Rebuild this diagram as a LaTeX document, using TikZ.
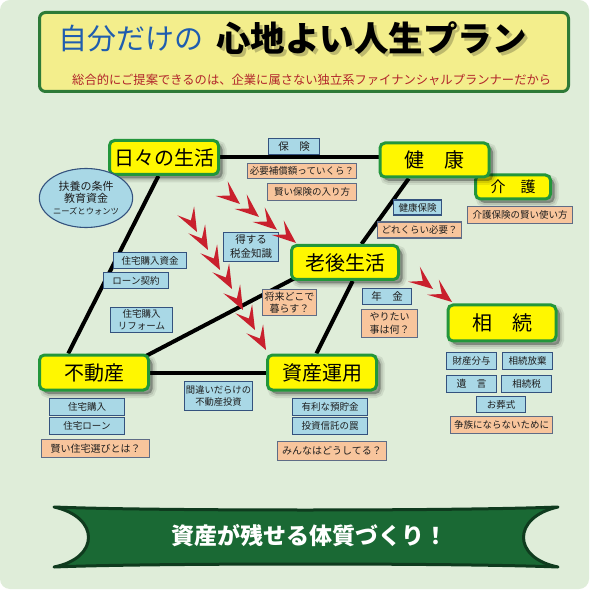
\documentclass[tikz,border=0pt]{standalone}
\usepackage{fontspec}
\setmainfont{Noto Sans CJK JP}
\usetikzlibrary{shapes.geometric,shadows,calc}
\definecolor{bgc}{HTML}{DFEDD9}
\definecolor{titlefill}{HTML}{F3EE8C}
\definecolor{titleborder}{HTML}{2D7A37}
\definecolor{nodefill}{HTML}{FFF700}
\definecolor{nodeborder}{HTML}{23963B}
\definecolor{bluefill}{HTML}{A9D8E6}
\definecolor{blueborder}{HTML}{34527E}
\definecolor{orangefill}{HTML}{F8C59C}
\definecolor{orangeborder}{HTML}{5E6C86}
\definecolor{arrowred}{HTML}{C9202D}
\definecolor{titleblue}{HTML}{1F5DAF}
\definecolor{subred}{HTML}{B1242A}
\definecolor{bannerfill}{HTML}{1A6934}
\definecolor{bannerborder}{HTML}{0F3B1E}
\definecolor{boxtext}{HTML}{1E1E1E}
\pgfdeclarelayer{bg}\pgfdeclarelayer{lines}\pgfsetlayers{bg,lines,main}
\begin{document}
\begin{tikzpicture}[x=1pt,y=-1pt,
 sz/.style 2 args={minimum width=#1pt, minimum height=#2pt},
 big/.style={draw=nodeborder, fill=nodefill, line width=3pt, rounded corners=5pt, inner sep=0pt,
   font=\fontsize{20}{24}\selectfont,
   general shadow={shadow xshift=4pt, shadow yshift=-4pt, opacity=0.08, fill=black, draw=black, line width=8pt},
   general shadow={shadow xshift=4pt, shadow yshift=-4pt, opacity=0.10, fill=black, draw=black, line width=4pt},
   general shadow={shadow xshift=4pt, shadow yshift=-4pt, opacity=0.14, fill=black, draw=none}},
 bbox/.style={draw=blueborder, fill=bluefill, line width=1.1pt, inner sep=0pt, font=\fontsize{9.5}{12}\selectfont, text=boxtext, align=center},
 obox/.style={bbox, draw=orangeborder, fill=orangefill},
 conn/.style={line width=4pt, black},
 redhead/.style={fill=arrowred}
]
\useasboundingbox (0,0) rectangle (594,593);
\begin{pgfonlayer}{bg}
\fill[white] (0,0) rectangle (594,593);
\fill[bgc, rounded corners=10pt] (0,0) rectangle (589,589);
\end{pgfonlayer}

% title
\node[draw=titleborder, fill=titlefill, line width=3pt, rounded corners=6pt, sz={529}{79}] (titlebox) at (304,52) {};
\node[font=\fontsize{29}{34}\selectfont, text=titleblue, anchor=west, inner sep=0pt] (t1) at (58,39) {自分だけの};
\node[font=\bfseries\fontsize{34.5}{40}\selectfont, text=black, text opacity=0.22, anchor=west, inner sep=0pt] (tshadow) at (219,41) {心地よい人生プラン};
\node[font=\bfseries\fontsize{34.5}{40}\selectfont, text=black, anchor=west, inner sep=0pt] (t2) at (216,38) {心地よい人生プラン};
\node[font=\fontsize{12.3}{15}\selectfont, text=subred, anchor=west, inner sep=0pt] (sub) at (72,80) {総合的にご提案できるのは、企業に属さない独立系ファイナンシャルプランナーだから};

% main nodes
\node[big, sz={109}{34}] (hibi) at (164,157.5) {日々の生活};
\node[big, sz={75}{24}, font=\fontsize{15}{18}\selectfont] (kaigo) at (513,187) {介　護};
\node[big, sz={109}{34}] (kenko) at (434.5,160) {健　康};
\node[big, sz={107}{34}] (rougo) at (345,262.5) {老後生活};
\node[big, sz={108}{36}] (souzoku) at (502,323) {相　続};
\node[big, sz={109}{35}] (fudo) at (94,372.5) {不動産};
\node[big, sz={109}{35}] (shisan) at (322,372.5) {資産運用};

% ellipse
\node[ellipse, draw=blueborder, fill=bluefill, line width=1.1pt, sz={85}{59}, inner sep=0pt, align=center, font=\fontsize{11}{12}\selectfont, text=boxtext] (fuyo) at (86,198) {扶養の条件\\教育資金\\{\fontsize{8.3}{12}\selectfont ニーズとウォンツ}};

% small boxes
\node[bbox, sz={51}{16}, font=\fontsize{10.5}{12}\selectfont] (hoken) at (294,146.5) {保　険};
\node[obox, sz={109}{15}] (hitsuyo) at (302,171) {必要補償額っていくら？};
\node[obox, sz={89}{17}] (kashikoi) at (312,192) {賢い保険の入り方};
\node[bbox, sz={48}{15}] (kenhoken) at (417.5,207.5) {健康保険};
\node[obox, sz={84}{16}] (dore) at (419.5,230) {どれくらい必要？};
\node[obox, sz={105}{17}] (kaigohoken) at (520,215) {介護保険の賢い使い方};
\node[bbox, sz={73}{16}] (jutakushikin) at (150,260.5) {住宅購入資金};
\node[bbox, sz={65}{16}] (loan) at (136,280.5) {ローン契約};
\node[bbox, sz={62}{25}, font=\fontsize{9.5}{12.5}\selectfont] (reform) at (141.5,320) {住宅購入\\リフォーム};
\node[bbox, sz={55}{29}, font=\fontsize{10.5}{14}\selectfont] (tokusuru) at (251,247) {得する\\税金知識};
\node[obox, sz={54}{26}, font=\fontsize{10}{12}\selectfont] (shorai) at (289.5,302.5) {将来どこで\\暮らす？};
\node[bbox, sz={49}{16}, font=\fontsize{10.5}{12}\selectfont] (nenkin) at (387,296.5) {年　金};
\node[obox, sz={56}{28}, font=\fontsize{10}{12.5}\selectfont] (yaritai) at (389.5,323.5) {やりたい\\事は何？};
\node[bbox, sz={50}{17}] (zaisan) at (471.5,361) {財産分与};
\node[bbox, sz={50}{17}] (houki) at (527.5,361) {相続放棄};
\node[bbox, sz={50}{17}, font=\fontsize{10}{12}\selectfont] (yuigon) at (471.5,384) {遺　言};
\node[bbox, sz={50}{17}] (souzokuzei) at (526.5,384) {相続税};
\node[bbox, sz={49}{16}] (sousiki) at (501,404.5) {お葬式};
\node[obox, sz={102}{17}] (arasoi) at (501.5,425) {争族にならないために};
\node[bbox, sz={75}{17}] (jutaku) at (87,407) {住宅購入};
\node[bbox, sz={75}{17}] (jutakuloan) at (87,426) {住宅ローン};
\node[obox, sz={108}{18}, font=\fontsize{10}{12}\selectfont] (erabi) at (95.5,448.5) {賢い住宅選びとは？};
\node[bbox, sz={68}{29}, font=\fontsize{9.3}{12.5}\selectfont] (machigai) at (218.5,396) {間違いだらけの\\不動産投資};
\node[bbox, sz={75}{17}] (yuri) at (330,407) {有利な預貯金};
\node[bbox, sz={75}{17}] (toushin) at (330,426) {投資信託の罠};
\node[obox, sz={109}{19}, font=\fontsize{10}{12}\selectfont] (minna) at (332,451) {みんなはどうしてる？};

% connectors
\begin{pgfonlayer}{lines}
\draw[conn] (hibi.east) -- (hibi.east -| kenko.west);
\draw[conn] (fudo.east) -- (fudo.east -| shisan.west);
\draw[conn] ($(hibi.south west)!0.45!(hibi.south east)$) -- ($(fudo.north west)!0.27!(fudo.north east)$);
\draw[conn] ($(kenko.south west)!0.27!(kenko.south east)$) -- ($(rougo.north west)!0.65!(rougo.north east)$);
\draw[conn] ($(rougo.south west)!0.57!(rougo.south east)$) -- ($(shisan.north west)!0.45!(shisan.north east)$);
\draw[conn] ($(rougo.south west)+(5,-3)$) -- ($(fudo.north east)+(-5,3)$);
\end{pgfonlayer}

% red arrowheads
\foreach \p in {(240,204),(259,217),(277,230),(296,243)}
  \fill[redhead, shift={\p}, rotate=-40] (0,0) -- (-24,-9.5) -- (-13,0) -- (-24,9.5) -- cycle;
\foreach \p in {(197,232),(208,250),(220,270),(232,289),(243,310),(255,330),(266,350)}
  \fill[redhead, shift={\p}, rotate=-62] (0,0) -- (-24,-9.5) -- (-13,0) -- (-24,9.5) -- cycle;
\foreach \p in {(433,289),(452,302)}
  \fill[redhead, shift={\p}, rotate=-38] (0,0) -- (-24,-9.5) -- (-13,0) -- (-24,9.5) -- cycle;

% banner
\draw[draw=bannerborder, fill=bannerfill, line width=3pt, line join=round]
  (54,507) .. controls (150,511) and (460,511) .. (558,507)
  .. controls (512,517) and (512,558) .. (558,567)
  .. controls (460,563) and (150,563) .. (54,567)
  .. controls (100,558) and (100,517) .. cycle;
\node[font=\bfseries\fontsize{23}{28}\selectfont, text=white] (bannertext) at (309,536) {資産が残せる体質づくり！};
\end{tikzpicture}
\end{document}
